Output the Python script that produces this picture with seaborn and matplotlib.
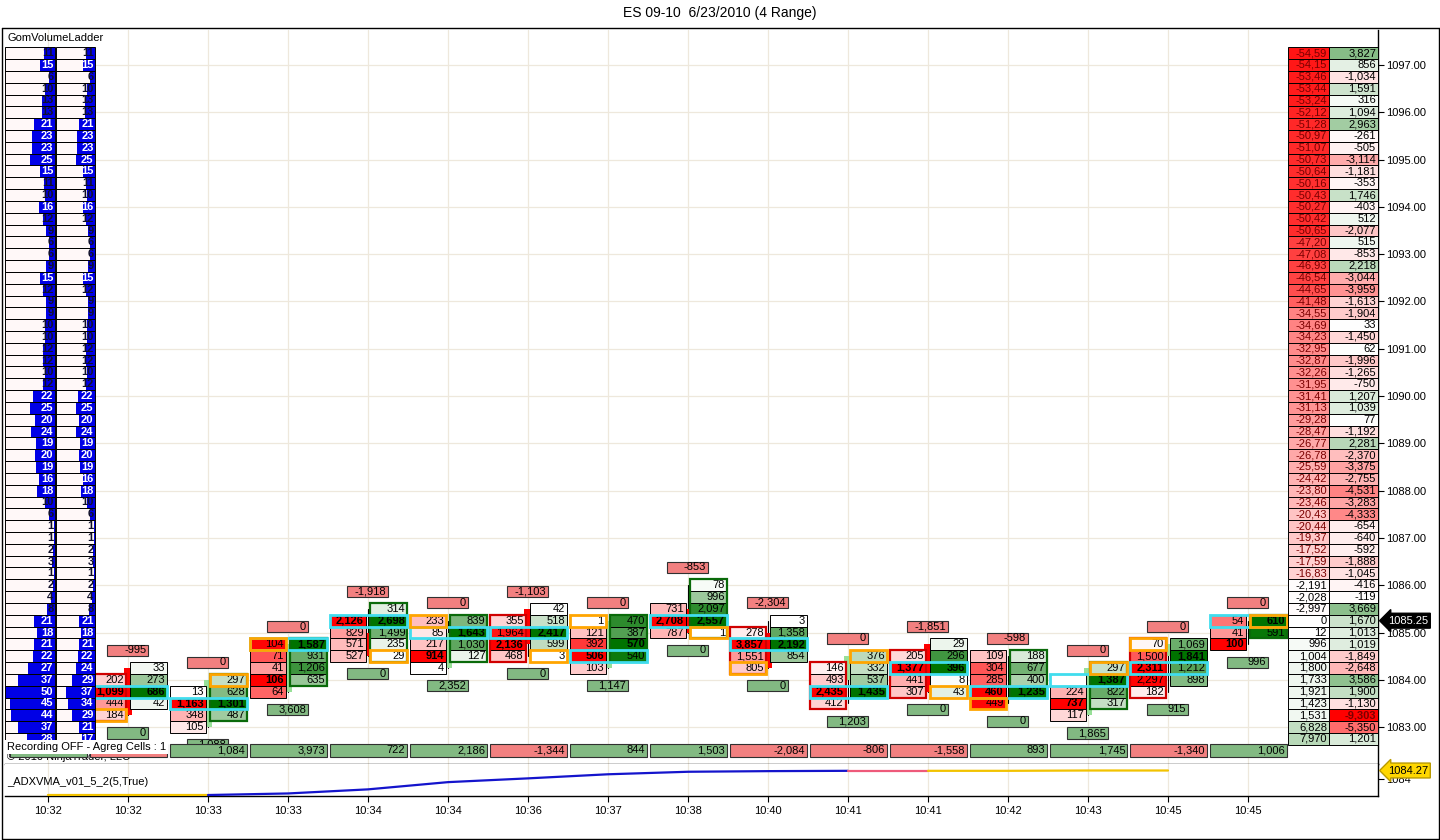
import numpy as np
import pandas as pd
import matplotlib
matplotlib.use("Agg")
import matplotlib.pyplot as plt
import matplotlib.transforms as mtransforms
from matplotlib.patches import Rectangle
from matplotlib.lines import Line2D
import seaborn as sns

# ---------------------------------------------------------------- data
TITLE = "ES 09-10  6/23/2010 (4 Range)"
time_labels = ["10:32", "10:32", "10:33", "10:33", "10:34", "10:34", "10:36", "10:37",
               "10:38", "10:40", "10:41", "10:41", "10:42", "10:43", "10:45", "10:45"]

ladder_top = 1097.25
price_step = 0.25
axis_prices = [1083, 1084, 1085, 1086, 1087, 1088, 1089, 1090, 1091, 1092, 1093, 1094,
               1095, 1096, 1097]

# GomVolumeLadder (left) - volumes per price level, top to bottom
ladder_vol_left = [11, 15, 6, 10, 13, 13, 21, 23, 23, 25, 15, 11, 10, 16, 12, 9, 6, 6, 9, 15,
                   12, 9, 9, 10, 10, 12, 12, 10, 12, 22, 25, 20, 24, 19, 20, 19, 16, 18, 10, 6,
                   1, 1, 2, 3, 1, 2, 4, 8, 21, 18, 21, 22, 27, 37, 50, 45, 44, 37, 28]
ladder_vol_right = [11, 15, 6, 10, 13, 13, 21, 23, 23, 25, 15, 11, 10, 16, 12, 9, 6, 6, 9, 15,
                    12, 9, 9, 10, 10, 12, 12, 10, 12, 22, 25, 20, 24, 19, 20, 19, 16, 18, 10, 6,
                    1, 1, 2, 3, 1, 2, 4, 8, 21, 18, 21, 22, 24, 29, 37, 34, 29, 21, 17]

# right-hand ladder (cumulative delta / delta per price)
ladder_cum_delta = [-54590, -54150, -53460, -53440, -53240, -52120, -51280, -50970, -51070,
                    -50730, -50640, -50160, -50430, -50270, -50420, -50650, -47200, -47080,
                    -46930, -46540, -44650, -41480, -34550, -34690, -34230, -32950, -32870,
                    -32260, -31950, -31410, -31130, -29280, -28470, -26770, -26780, -25590,
                    -24420, -23800, -23460, -20430, -20440, -19370, -17520, -17590, -16830,
                    -2191, -2028, -2997, 0, 12, 996, 1004, 1800, 1733, 1921, 1423, 1531,
                    6828, 7970]
ladder_delta = [3827, 856, -1034, 1591, 316, 1094, 2963, -261, -505, -3114, -1181, -353,
                1746, -403, 512, -2077, 515, -853, 2218, -3044, -3959, -1613, -1904, 33,
                -1450, 62, -1996, -1265, -750, 1207, 1039, 77, -1192, 2281, -2370, -3375,
                -2755, -4531, -3283, -4333, -654, -640, -592, -1888, -1045, -416, -119, 3669,
                1670, 1013, 1019, -1849, -2648, 3586, 1900, -1130, -9303, -5350, 1201]

# footprint candles (index 0 is hidden behind the ladder)
candle_high = [None, 1084.25, 1084.00, 1084.75, 1085.50, 1085.25, 1085.50, 1085.25,
               1086.00, 1085.25, 1084.50, 1084.75, 1084.50, 1084.25, 1084.75, 1085.25]
candle_bid = [
    None,
    [None, 202, 1099, 444, 184],
    [None, 13, 1163, 348, 105],
    [104, 71, 41, 106, 64],
    [None, 2126, 829, 571, 527],
    [233, 85, 217, 914, 4],
    [None, 355, 1964, 2136, 468],
    [1, 121, 392, 506, 103],
    [None, None, 731, 2708, 787],
    [None, 278, 3857, 1551, 805],
    [None, 146, 493, 2435, 412],
    [None, 205, 1377, 441, 307],
    [109, 304, 285, 460, 449],
    [None, 0, 224, 737, 117],
    [70, 1500, 2311, 2297, 182],
    [54, 41, 100],
]
candle_ask = [
    None,
    [33, 273, 686, 42, None],
    [297, 628, 1301, 487, None],
    [1587, 931, 1206, 635, None],
    [314, 2698, 1499, 235, 29],
    [839, 1643, 1030, 127, None],
    [42, 518, 2417, 599, 3],
    [470, 387, 570, 540, None],
    [78, 996, 2097, 2557, 1],
    [3, 1358, 2192, 854, None],
    [376, 332, 537, 1435, None],
    [29, 296, 396, 8, 43],
    [188, 677, 400, 1235, None],
    [297, 1387, 822, 317, None],
    [1069, 1841, 1212, 898, None],
    [610, 591, None],
]
candle_open = [None, 1084.25, 1083.00, 1083.75, 1085.00, 1084.25, 1085.50, 1084.25,
               1085.50, 1085.00, 1084.00, 1084.75, 1084.00, 1083.25, 1084.50, 1085.00]
candle_close = [None, 1083.25, 1084.00, 1084.75, 1084.50, 1085.00, 1084.75, 1085.25,
                1085.00, 1084.25, 1084.50, 1083.75, 1084.00, 1084.25, 1084.75, 1085.00]
poc_row = [None, 2, 2, 0, 1, 1, 2, 3, 3, 2, 3, 2, 3, 1, 2, 0]
open_side = [None, "bid", "ask", "bid", "ask", "bid", "ask", "bid", "ask", "bid", "ask",
             "ask", "bid", "ask", "bid", "ask"]
open_row = [None, 4, 0, 0, 4, 0, 4, 0, 4, 4, 0, 4, 4, 0, 0, 0]
top_label = [None, -995, 0, 0, -1918, 0, -1103, 0, -853, -2304, 0, -1851, -598, 0, 0, 0]
below_label = [None, 0, 1088, 3608, 0, 2352, 0, 1147, 0, 0, 1203, 0, 0, 1865, 915, 996]
bar_delta = [None, -895, 1084, 3973, 722, 2186, -1344, 844, 1503, -2084, -806, -1558, 893,
             1745, -1340, 1006]
# bar-delta boxes whose text is hidden under the "Recording OFF" label
bar_delta_hidden = [True, True] + [False] * 14

# _ADXVMA lower panel
adx_values = [1083.49, 1083.49, 1083.49, 1083.54, 1083.67, 1083.90, 1084.02, 1084.15,
              1084.23, 1084.25, 1084.26, 1084.26, 1084.26, 1084.27, 1084.27]
adx_seg_state = ["flat", "flat", "up", "up", "up", "up", "up", "up", "up", "up", "down",
                 "flat", "flat", "flat"]
adx_last = 1084.27
last_price = 1085.25

# ---------------------------------------------------------------- style
sns.set_theme(style="white", rc={"axes.edgecolor": "black", "text.color": "black",
                                 "xtick.color": "black", "ytick.color": "black",
                                 "axes.labelcolor": "black"})
plt.rcParams["font.family"] = ["Liberation Sans", "DejaVu Sans"]

W, H = 1440, 840
fig = plt.figure(figsize=(W / 100, H / 100), dpi=100, facecolor="white")


def fx(px):
    return px / W


def fy(py):
    return 1 - py / H


ax = fig.add_axes([fx(5), fy(764), fx(1378) - fx(5), fy(30) - fy(764)])
ax2 = fig.add_axes([fx(5), fy(796), fx(1378) - fx(5), fy(764) - fy(796)])
for a in (ax, ax2):
    a.set_facecolor("white")
    a.set_xlim(-0.5375, 16.625)
    for s in ("left", "top"):
        a.spines[s].set_visible(False)
    for s in ("right", "bottom"):
        a.spines[s].set_visible(True)
        a.spines[s].set_color("black")
        a.spines[s].set_linewidth(1.0)
ax.set_ylim(1082.22, 1097.74)
ax2.set_ylim(1083.459, 1084.477)

GRID = "#EEE8DC"
for i in range(len(time_labels)):
    ax.axvline(i, color=GRID, lw=0.9, zorder=0)
    ax2.axvline(i, color=GRID, lw=0.9, zorder=0)
for p in axis_prices:
    ax.axhline(p, color=GRID, lw=0.9, zorder=0)

# axes ticks
ax.yaxis.tick_right()
ax.set_yticks(axis_prices)
ax.set_yticklabels([f"{p:.2f}" for p in axis_prices])
ax.tick_params(axis="y", right=True, left=False, length=4, width=0.8, pad=2,
               labelsize=8, direction="out")
ax.tick_params(axis="x", bottom=False, labelbottom=False)
ax2.yaxis.tick_right()
ax2.set_yticks([1084])
ax2.set_yticklabels(["1084"])
ax2.tick_params(axis="y", right=True, left=False, length=4, width=0.8, pad=2,
                labelsize=8, direction="out")
ax2.set_xticks(range(len(time_labels)))
ax2.set_xticklabels(time_labels)
ax2.tick_params(axis="x", bottom=True, length=4, width=0.8, pad=3, labelsize=8,
                direction="out")


def shade(base, t):
    t = max(0.0, min(1.0, t))
    return tuple(1 - (1 - b) * t for b in base)


RED = (1.0, 0.0, 0.0)
GREEN = (0.0, 0.45, 0.0)
BID_L, BID_R = -0.475, -0.031
ASK_L, ASK_R = 0.025, 0.4875
HALF = price_step / 2
TXT_PAD = 0.022


def fmt(v):
    return f"{v:,}"


# ---------------------------------------------------------------- footprint candles
for i in range(len(time_labels)):
    if candle_bid[i] is None:
        continue
    bids, asks = candle_bid[i], candle_ask[i]
    n = len(bids)
    prices = [candle_high[i] - k * price_step for k in range(n)]
    low = prices[-1]
    # wick + body
    ax.plot([i, i], [low, candle_high[i]], color="black", lw=0.8, zorder=2)
    o, c = candle_open[i], candle_close[i]
    if o != c:
        ax.add_patch(Rectangle((i - 0.045, min(o, c)), 0.09, abs(c - o),
                               fc="#FF0000" if c < o else "#98E098", ec="none", zorder=2.5))
    for side, vals, (l, r), base in (("bid", bids, (BID_L, BID_R), RED),
                                     ("ask", asks, (ASK_L, ASK_R), GREEN)):
        vmax = max(v for v in vals if v is not None)
        rows = [k for k, v in enumerate(vals) if v is not None]
        for k in rows:
            v = vals[k]
            t = v / vmax
            ax.add_patch(Rectangle((i + l, prices[k] - HALF), r - l, price_step,
                                   fc=shade(base, t), ec="black", lw=0.7, zorder=3))
            if v != 0:
                ax.text(i + r - TXT_PAD, prices[k], fmt(v), ha="right", va="center",
                        fontsize=8, fontweight="bold" if v == vmax else "normal",
                        color="black", zorder=4)
        # column outline according to the bar delta sign
        if (side == "bid" and bar_delta[i] < 0) or (side == "ask" and bar_delta[i] > 0):
            top_p = prices[rows[0]] + HALF
            bot_p = prices[rows[-1]] - HALF
            ax.add_patch(Rectangle((i + l, bot_p), r - l, top_p - bot_p, fc="none",
                                   ec="#D00000" if side == "bid" else "#0A6A0A", lw=1.6,
                                   zorder=5))
    # POC (cyan) and open cell (orange)
    pk = poc_row[i]
    ax.add_patch(Rectangle((i + BID_L, prices[pk] - HALF), ASK_R - BID_L, price_step,
                           fc="none", ec="#40DDEE", lw=2.0, zorder=6))
    ok = open_row[i]
    l, r = (BID_L, BID_R) if open_side[i] == "bid" else (ASK_L, ASK_R)
    ax.add_patch(Rectangle((i + l, prices[ok] - HALF), r - l, price_step,
                           fc="none", ec="#FFA500", lw=2.0, zorder=7))
    # labels above and below the candle
    for val, yc, fc in ((top_label[i], candle_high[i] + 1.5 * price_step, "#F28080"),
                        (below_label[i], low - 1.5 * price_step, "#82B982")):
        ax.add_patch(Rectangle((i - 0.26, yc - 0.117), 0.51, 0.234, fc=fc, ec="#303030",
                               lw=0.8, zorder=3))
        ax.text(i + 0.25 - TXT_PAD, yc, fmt(val), ha="right", va="center", fontsize=8,
                color="black", zorder=4)

# bottom row of bar deltas
tB = mtransforms.blended_transform_factory(ax.transData, ax.transAxes)
ax.text(2 / 1373, 0.0095, "\u00a9 2010 NinjaTrader, LLC", transform=ax.transAxes,
        ha="left", va="center", fontsize=8, color="black", zorder=3.5)
for i in range(len(time_labels)):
    v = bar_delta[i]
    fc = "#82B982" if (v is None or v >= 0) else "#F28080"
    ax.add_patch(Rectangle((i - 0.475, 0.0095), 0.9625, 0.0177, transform=tB, fc=fc,
                           ec="#303030", lw=0.8, zorder=8))
    if v is not None and not bar_delta_hidden[i]:
        ax.text(i + 0.4875 - TXT_PAD, 0.0185, fmt(v), transform=tB, ha="right",
                va="center", fontsize=8, color="black", zorder=8.5)

# ---------------------------------------------------------------- ladders
tA = mtransforms.blended_transform_factory(ax.transAxes, ax.transData)
AXW = 1373.0


def axx(px):
    return (px - 5) / AXW


ladder_prices = [ladder_top - k * price_step for k in range(len(ladder_vol_left))]
L_COLS = [(axx(5), axx(55)), (axx(56), axx(95))]
vol_max = max(max(ladder_vol_left), max(ladder_vol_right))
for p, v1, v2 in zip(ladder_prices, ladder_vol_left, ladder_vol_right):
    for (l, r), v in zip(L_COLS, (v1, v2)):
        ax.add_patch(Rectangle((l, p - HALF), r - l, price_step, transform=tA,
                               fc="#FFF8F8", ec="none", zorder=9))
        bw = (r - l) * v / vol_max
        ax.add_patch(Rectangle((r - bw, p - HALF), bw, price_step, transform=tA,
                               fc="#0000E6", ec="none", zorder=9.1))
        ax.add_patch(Rectangle((l, p - HALF), r - l, price_step, transform=tA,
                               fc="none", ec="black", lw=0.7, zorder=9.15))
        ax.text(r - 1.5 / AXW, p, str(v), transform=tA, ha="right", va="center",
                fontsize=8, fontweight="bold",
                color="white" if v >= 15 else "#10102A", zorder=9.2)

R_COLS = [(axx(1288), axx(1329)), (axx(1329), axx(1378))]
cmax_neg = max(-v for v in ladder_cum_delta)
cmax_pos = max(ladder_cum_delta)
dmax_neg = max(-v for v in ladder_delta)
dmax_pos = max(ladder_delta)


def cum_label(v):
    s = fmt(v)
    return s[:-1] if abs(v) >= 10000 else s


for p, cv, dv in zip(ladder_prices, ladder_cum_delta, ladder_delta):
    # cumulative column
    (l, r) = R_COLS[0]
    if cv < 0:
        fc = shade((1.0, 0.08, 0.08), (-cv / cmax_neg) ** 1.4)
    else:
        fc = shade((0.72, 0.85, 0.72), cv / cmax_pos)
    ax.add_patch(Rectangle((l, p - HALF), r - l, price_step, transform=tA, fc=fc,
                           ec="black", lw=0.7, zorder=9))
    ax.text(r - 2 / AXW, p, cum_label(cv), transform=tA, ha="right", va="center",
            fontsize=8, color="#7A0000" if cv < -10000 else "black", zorder=9.2)
    # delta column
    (l, r) = R_COLS[1]
    if dv < 0:
        t = -dv / dmax_neg
        fc = shade((1.0, 0.0, 0.0), t)
    else:
        t = dv / dmax_pos
        fc = shade((0.53, 0.74, 0.53), t)
    strong = dv < 0 and t > 0.99
    ax.add_patch(Rectangle((l, p - HALF), r - l, price_step, transform=tA, fc=fc,
                           ec="black", lw=0.7, zorder=9))
    ax.text(r - 2 / AXW, p, fmt(dv), transform=tA, ha="right", va="center", fontsize=8,
            fontweight="bold" if strong else "normal",
            color="#7A0000" if strong else "black", zorder=9.2)

# current price marker
ax.annotate(f"{last_price:.2f}", xy=(1.0, last_price), xycoords=tA, xytext=(7, 0),
            textcoords="offset points", ha="left", va="center", color="white", fontsize=8,
            bbox=dict(boxstyle="larrow,pad=0.22", fc="black", ec="black"), zorder=20,
            annotation_clip=False)

# ---------------------------------------------------------------- ADXVMA panel
seg_rows = []
seg_id = 0
for j, state in enumerate(adx_seg_state):
    if j > 0 and state != adx_seg_state[j - 1]:
        seg_id += 1
    seg_rows.append({"seg": f"s{seg_id}", "state": state, "x": j, "adx": adx_values[j]})
    seg_rows.append({"seg": f"s{seg_id}", "state": state, "x": j + 1,
                     "adx": adx_values[j + 1]})
adx_df = pd.DataFrame(seg_rows).drop_duplicates(subset=["seg", "x"])
state_colors = {"flat": "#F2C200", "up": "#1414CC", "down": "#EE5A7A"}
palette = {s: state_colors[st] for s, st in zip(adx_df["seg"], adx_df["state"])}
sns.lineplot(data=adx_df, x="x", y="adx", hue="seg", palette=palette, estimator=None,
             sort=False, legend=False, lw=1.6, ax=ax2, zorder=3)
ax2.set_xlabel("")
ax2.set_ylabel("")
ax2.set_xlim(-0.5375, 16.625)
ax2.set_ylim(1083.459, 1084.477)
tA2 = mtransforms.blended_transform_factory(ax2.transAxes, ax2.transData)
ax2.annotate(f"{adx_last:.2f}", xy=(1.0, adx_last), xycoords=tA2, xytext=(7, 0),
             textcoords="offset points", ha="left", va="center", color="black",
             fontsize=8, bbox=dict(boxstyle="larrow,pad=0.22", fc="#FFD700", ec="#B89A00"),
             zorder=20, annotation_clip=False)

# ---------------------------------------------------------------- texts & frame
fig.text(0.5, fy(13), TITLE, ha="center", va="center", fontsize=10)
fig.text(fx(7), fy(38), "GomVolumeLadder", ha="left", va="center", fontsize=8)
fig.text(fx(7), fy(782), "_ADXVMA_v01_5_2(5,True)", ha="left", va="center", fontsize=8)
fig.text(fx(7), fy(747), "Recording OFF - Agreg Cells : 1", ha="left", va="center",
         fontsize=8, bbox=dict(fc="white", ec="none", pad=1.2), zorder=10)
for xs, ys in (([fx(1.5), fx(1.5)], [fy(27.5), fy(838.5)]),
               ([fx(1.5), fx(1438.5)], [fy(838.5), fy(838.5)]),
               ([fx(1438.5), fx(1438.5)], [fy(27.5), fy(838.5)]),
               ([fx(1.5), fx(1438.5)], [fy(27.5), fy(27.5)])):
    fig.add_artist(Line2D(xs, ys, color="black", lw=1.0))

fig.savefig("out.png", dpi=100, facecolor="white")
